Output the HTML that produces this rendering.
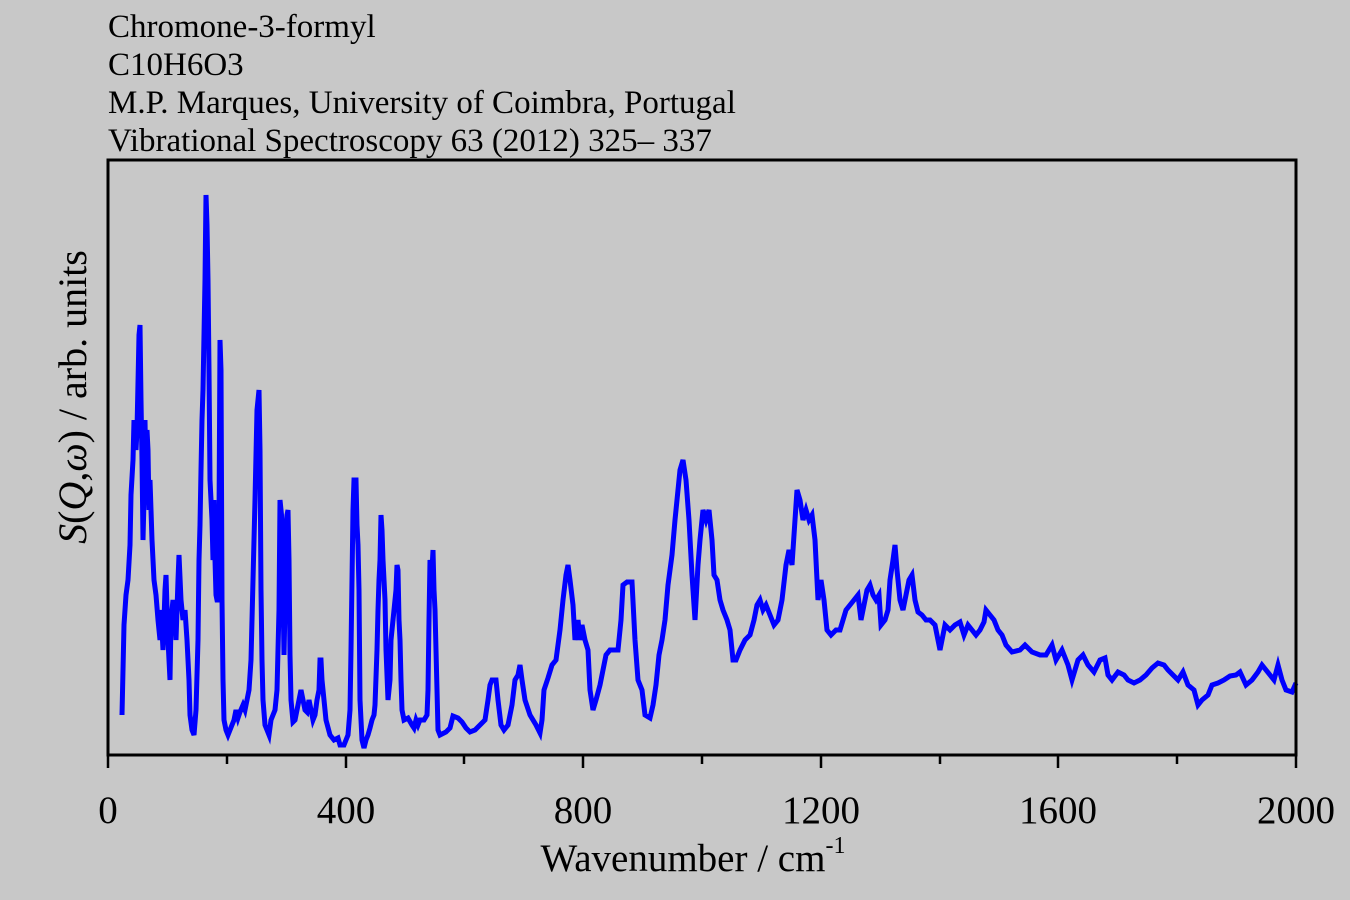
<!DOCTYPE html>
<html><head><style>
html,body{margin:0;padding:0;background:#c8c8c8;}
</style></head><body>
<svg width="1350" height="900" xmlns="http://www.w3.org/2000/svg" style="display:block">
<rect width="1350" height="900" fill="#c8c8c8"/>
<g font-family="Liberation Serif, serif" font-size="33" fill="#000">
<text x="108" y="37">Chromone-3-formyl</text>
<text x="108" y="75">C10H6O3</text>
<text x="108" y="113">M.P. Marques, University of Coimbra, Portugal</text>
<text x="108" y="151">Vibrational Spectroscopy 63 (2012) 325– 337</text>
</g>
<polyline fill="none" stroke="#0000ff" stroke-width="5" stroke-linejoin="miter" points="122,715 124,625 126,595 128,580 130,545 131,495 133,460 134,420 136,450 137,430 139,335 140,325 141,400 142,460 143,540 144,500 145,420 146,480 147,430 148,450 149,510 150,480 152,540 154,580 156,595 158,620 160,640 161,610 163,650 165,590 166,575 168,640 170,680 171,620 173,600 175,620 176,640 178,580 179,555 181,600 183,620 185,610 187,640 189,680 190,715 192,730 194,735 196,710 198,640 199,560 200,525 201,470 202,420 203,390 204,335 205,280 206,195 207,225 208,280 209,370 210,480 211,500 212,520 213,560 214,500 215,560 216,595 217,600 218,600 219,520 220,340 221,370 222,600 223,680 224,720 226,730 228,735 230,730 232,725 234,720 236,710 238,718 240,712 243,705 245,710 247,700 249,690 251,660 253,580 255,500 257,410 259,390 260,450 261,590 262,660 263,700 265,725 267,730 269,735 271,720 273,715 275,710 277,690 279,610 280,500 282,520 284,655 286,560 287,515 288,510 289,560 290,655 291,700 293,722 295,720 297,710 299,700 301,690 303,700 305,710 307,712 309,700 311,710 313,720 315,715 317,700 319,690 320,660 321,660 322,680 324,700 326,720 330,735 334,740 338,738 340,745 344,745 346,740 348,735 350,710 351,650 352,580 353,510 354,480 356,480 357,525 358,545 359,590 360,700 362,740 364,748 366,740 368,735 370,728 372,720 374,715 375,705 377,650 378,610 379,580 380,560 381,515 382,530 383,560 385,600 386,650 388,700 390,680 391,640 393,620 395,600 396,590 397,565 398,570 399,620 400,640 401,680 402,710 404,720 408,718 412,725 414,728 416,720 418,725 420,720 424,720 427,715 428,690 429,620 430,560 432,570 433,550 434,590 435,610 436,650 437,690 438,730 440,735 446,732 450,728 453,716 458,718 462,722 466,728 470,732 475,730 480,725 485,720 488,700 490,685 492,680 496,680 498,700 501,725 504,730 508,725 512,705 515,680 518,675 520,665 522,680 525,700 530,715 536,725 540,733 542,720 544,690 548,678 552,665 556,660 560,630 563,600 566,575 568,565 570,580 573,605 575,640 578,620 580,640 582,625 585,640 588,650 590,690 593,710 596,700 600,685 603,670 606,655 610,650 614,650 618,650 621,620 623,585 627,582 632,582 635,640 638,680 642,690 645,715 650,718 653,705 656,685 659,655 662,640 665,620 668,585 672,555 675,520 678,490 680,470 683,460 686,480 689,520 692,575 695,620 698,565 700,540 703,510 706,520 709,510 712,540 714,575 717,580 720,600 723,610 727,620 730,630 733,660 736,660 740,650 745,640 750,635 754,620 757,605 760,600 763,610 766,605 770,615 774,625 778,620 782,600 786,565 789,550 792,565 795,520 797,490 800,500 803,520 806,510 809,520 812,515 815,540 818,600 821,580 824,600 827,630 831,635 836,630 840,630 843,620 846,610 850,605 854,600 858,595 861,620 864,605 867,590 870,585 873,595 876,600 879,595 881,625 885,620 888,610 890,580 893,560 895,545 897,570 900,600 903,610 906,595 909,580 912,575 915,600 918,612 922,615 926,620 930,620 935,625 940,650 945,625 950,630 955,625 960,622 964,635 968,625 972,630 976,635 980,630 984,622 986,610 990,615 994,620 998,630 1002,635 1006,645 1012,652 1020,650 1025,645 1032,652 1040,655 1046,655 1052,645 1056,660 1062,650 1068,665 1072,680 1078,660 1083,655 1088,665 1094,672 1100,660 1105,658 1108,675 1112,680 1118,672 1124,675 1128,680 1134,683 1140,680 1146,675 1152,668 1158,663 1164,665 1168,670 1173,675 1178,680 1183,672 1188,685 1194,690 1198,705 1202,700 1208,695 1212,685 1218,683 1224,680 1230,676 1236,675 1240,672 1246,685 1252,680 1258,672 1262,665 1266,670 1270,675 1274,680 1278,665 1282,680 1286,690 1292,692 1296,683"/>
<rect x="108" y="160" width="1188" height="595" fill="none" stroke="#000" stroke-width="3"/>
<g stroke="#000" stroke-width="2.5">
<line x1="108" y1="755" x2="108" y2="768"/><line x1="227" y1="755" x2="227" y2="764"/>
<line x1="346" y1="755" x2="346" y2="768"/><line x1="464" y1="755" x2="464" y2="764"/>
<line x1="583" y1="755" x2="583" y2="768"/><line x1="702" y1="755" x2="702" y2="764"/>
<line x1="821" y1="755" x2="821" y2="768"/><line x1="940" y1="755" x2="940" y2="764"/>
<line x1="1058" y1="755" x2="1058" y2="768"/><line x1="1177" y1="755" x2="1177" y2="764"/>
<line x1="1296" y1="755" x2="1296" y2="768"/>
</g>
<g font-family="Liberation Serif, serif" font-size="39" fill="#000" text-anchor="middle">
<text x="108" y="823">0</text><text x="346" y="823">400</text><text x="583" y="823">800</text>
<text x="821" y="823">1200</text><text x="1058" y="823">1600</text><text x="1296" y="823">2000</text>
<text x="693" y="871">Wavenumber / cm<tspan font-size="24" dy="-18">-1</tspan></text>
</g>
<text transform="translate(86,397) rotate(-90)" font-family="Liberation Serif, serif" font-size="40" text-anchor="middle"><tspan font-style="italic">S</tspan>(<tspan font-style="italic">Q</tspan>,<tspan font-style="italic">ω</tspan>) / arb. units</text>
</svg>
</body></html>
